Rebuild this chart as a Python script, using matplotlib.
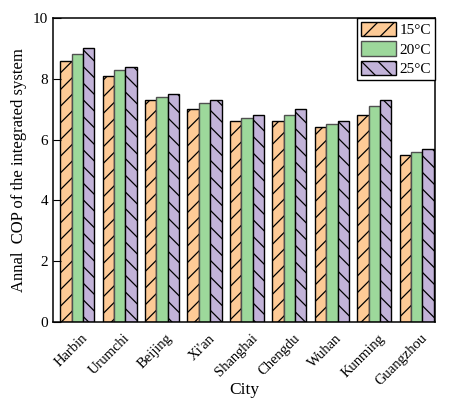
import matplotlib.pyplot as plt
import numpy as np

plt.rcParams['font.family'] = ['Liberation Serif', 'DejaVu Serif']
plt.rcParams['hatch.linewidth'] = 0.9

cities = ['Harbin', 'Urumchi', 'Beijing', "Xi'an", 'Shanghai', 'Chengdu', 'Wuhan', 'Kunming', 'Guangzhou']
cop_15 = [8.6, 8.1, 7.3, 7.0, 6.6, 6.6, 6.4, 6.8, 5.5]
cop_20 = [8.8, 8.3, 7.4, 7.2, 6.7, 6.8, 6.5, 7.1, 5.6]
cop_25 = [9.0, 8.4, 7.5, 7.3, 6.8, 7.0, 6.6, 7.3, 5.7]
labels = ['15°C', '20°C', '25°C']

fig = plt.figure(figsize=(4.53, 4.04), dpi=100)
ax = fig.add_axes([53 / 453, 1 - 322 / 404, 382 / 453, 304 / 404])

x = np.arange(len(cities))
w = 0.268
ax.bar(x - w, cop_15, w, color='#FDCA96', edgecolor='black', hatch='//', linewidth=1, label=labels[0])
ax.bar(x, cop_20, w, color='#9DD89B', edgecolor='#505050', linewidth=1, label=labels[1])
ax.bar(x + w, cop_25, w, color='#C2B3D8', edgecolor='black', hatch='\\\\', linewidth=1, label=labels[2])

ax.set_xlim(-0.57, 8.43)
ax.set_ylim(0, 10)
ax.set_yticks([0, 2, 4, 6, 8, 10])
# labels sit a little right of the group centre, as in the original
ax.set_xticks(x + 0.3)
ax.set_xticklabels(cities, rotation=45, ha='right', fontsize=10.5)
ax.tick_params(axis='y', direction='in', length=6, labelsize=11)
ax.tick_params(axis='x', length=0, pad=7)
for s in ax.spines.values():
    s.set_linewidth(1.1)

ax.set_ylabel('Annal  COP of the integrated system', fontsize=12)
ax.yaxis.set_label_coords(-0.068, 0.5)
ax.set_xlabel('City', fontsize=12.5)
ax.xaxis.set_label_coords(0.5, -0.198)

leg = ax.legend(loc='upper right', fontsize=11, fancybox=False, edgecolor='black', framealpha=1,
                handlelength=2.3, handleheight=1.1, borderaxespad=0, labelspacing=0.25,
                handletextpad=0.25, borderpad=0.25)
leg.get_frame().set_linewidth(1)

fig.savefig('out.png', dpi=100)
